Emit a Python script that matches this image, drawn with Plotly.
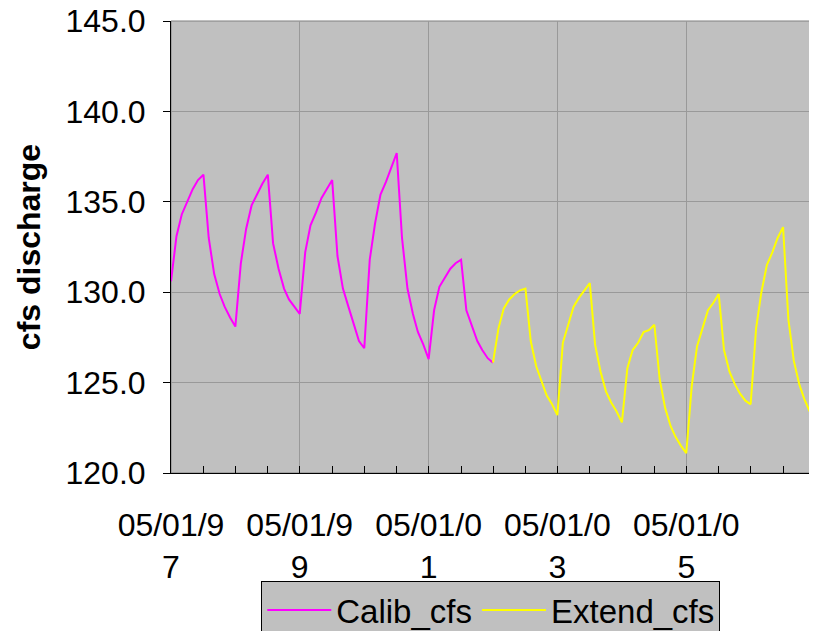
import pandas as pd
import plotly.graph_objects as go

# monthly series, 05/1997 .. 05/2007
months = pd.date_range("1997-05-01", "2007-05-01", freq="MS")

calib_cfs = [
    130.6, 133.1, 134.3, 135.0, 135.7, 136.2, 136.5, 133.0, 131.0, 129.9, 129.2, 128.6, 128.1,
    131.6, 133.5, 134.8, 135.4, 136.0, 136.5, 132.7, 131.3, 130.2, 129.6, 129.2, 128.8,
    132.2, 133.7, 134.4, 135.2, 135.7, 136.2, 132.0, 130.2, 129.2, 128.3, 127.3, 126.9,
    131.8, 133.8, 135.4, 136.1, 136.9, 137.7, 133.0, 130.2, 128.8, 127.8, 127.1, 126.3,
    129.0, 130.3, 130.8, 131.3, 131.6, 131.8, 129.0, 128.1, 127.3, 126.8, 126.35, 126.1,
]
extend_cfs = [
    126.1, 128.0, 129.1, 129.6, 129.9, 130.1, 130.2, 127.3, 125.9, 125.0, 124.3, 123.8, 123.2,
    127.2, 128.2, 129.2, 129.7, 130.1, 130.5, 127.1, 125.6, 124.5, 123.9, 123.4, 122.8,
    125.8, 126.8, 127.2, 127.8, 127.9, 128.2, 125.2, 123.6, 122.6, 122.0, 121.5, 121.1,
    124.8, 127.0, 128.0, 129.0, 129.4, 129.9, 126.8, 125.6, 124.9, 124.4, 124.0, 123.8,
    128.0, 130.0, 131.5, 132.2, 133.0, 133.6, 128.5, 126.2, 124.9, 124.1, 123.4, 122.9,
]

tick_dates = ["1997-05-01", "1999-05-01", "2001-05-01", "2003-05-01", "2005-05-01"]
tick_text = ["05/01/9<br>7", "05/01/9<br>9", "05/01/0<br>1", "05/01/0<br>3", "05/01/0<br>5"]

FONT = "Liberation Sans, Arial, sans-serif"

fig = go.Figure()
fig.add_trace(go.Scatter(x=months[:len(calib_cfs)], y=calib_cfs, name="Calib_cfs",
                         mode="lines", line=dict(color="#FF00FF", width=2)))
fig.add_trace(go.Scatter(x=months[len(calib_cfs) - 1:], y=extend_cfs, name="Extend_cfs",
                         mode="lines", line=dict(color="#FFFF00", width=2)))

# page body adds an 8px offset, so margins are shifted by that amount
fig.update_layout(
    width=817, height=631,
    margin=dict(l=163, r=10, t=13, b=166),
    paper_bgcolor="white", plot_bgcolor="#C0C0C0",
    font=dict(family=FONT, size=32, color="black"),
    showlegend=True,
    legend=dict(orientation="h", xref="container", yref="container",
                x=0.310, xanchor="left", y=0.092, yanchor="top",
                bgcolor="#C0C0C0", bordercolor="black", borderwidth=1,
                itemwidth=64, font=dict(size=33)),
)
fig.update_xaxes(
    type="date", range=[months[0], months[-1]], automargin=False,
    tickmode="array", tickvals=tick_dates, ticktext=tick_text,
    ticks="inside", ticklen=7, tickcolor="black",
    showline=True, linecolor="black", linewidth=1,
    showgrid=True, gridcolor="#999999", gridwidth=1,
    ticklabelstandoff=24, ticklabeloverflow="allow",
    minor=dict(dtick="M6", tick0="1997-05-01", ticks="inside", ticklen=7,
               tickcolor="black", showgrid=False),
)
fig.update_yaxes(
    range=[120, 145], dtick=5, tickformat=".1f", automargin=False,
    ticks="outside", ticklen=7, tickcolor="black",
    showline=True, linecolor="black", linewidth=1,
    showgrid=True, gridcolor="#999999", gridwidth=1, zeroline=False,
    ticklabelstandoff=11, ticklabeloverflow="allow",
    title=dict(text="<b>cfs discharge</b>", font=dict(size=32), standoff=15),
)
fig.add_shape(type="rect", xref="paper", yref="paper", x0=0, x1=1, y0=0, y1=1,
              line=dict(color="#808080", width=1), layer="below")

fig.write_html("out.html")
